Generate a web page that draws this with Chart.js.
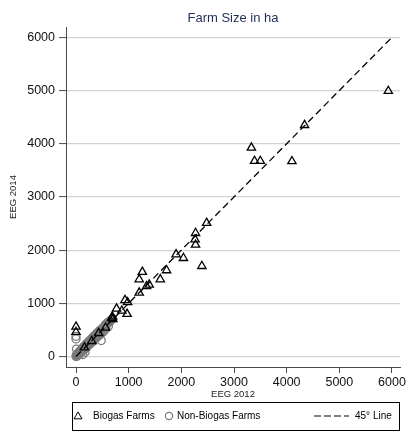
<!DOCTYPE html>
<html>
<head>
<meta charset="utf-8">
<title>Farm Size in ha</title>
<script src="https://cdn.jsdelivr.net/npm/chart.js@4/dist/chart.umd.min.js"></script>
<style>
  html, body { margin: 0; padding: 0; background: #ffffff; }
  #wrap { width: 409px; height: 441px; }
</style>
</head>
<body>
<div id="wrap"><canvas id="c" width="409" height="441"></canvas></div>
<script>
// Farm size (ha) under EEG 2012 vs EEG 2014
const chartTitle = 'Farm Size in ha';
const xTitle = 'EEG 2012';
const yTitle = 'EEG 2014';

const xTickValues = [0, 1000, 2000, 3000, 4000, 5000, 6000];
const yTickValues = [0, 1000, 2000, 3000, 4000, 5000, 6000];

// Biogas farms
const biogasX = [5930, 4340, 4100, 3330, 3390, 3500, 2480, 2270, 2260, 2270, 2040, 1900, 2390,
                 1720, 1600, 1260, 1200, 1390, 1340, 1200, 930, 980, 970, 770, 870, 700, 680,
                 0, 0, 690, 560, 430, 300, 160];
const biogasY = [4990, 4350, 3670, 3925, 3675, 3675, 2510, 2320, 2200, 2100, 1850, 1920, 1700,
                 1620, 1450, 1590, 1450, 1350, 1320, 1200, 1060, 1020, 800, 900, 860, 700, 720,
                 560, 460, 750, 540, 440, 290, 170];

// Non-biogas farms
const nonBiogasX = [0, 6, 14, 20, 27, 31, 42, 47, 57, 63, 71, 76, 88, 93, 104, 111, 117, 127, 133,
                    144, 152, 158, 169, 177, 183, 196, 203, 214, 222, 229, 242, 251, 259, 272,
                    279, 291, 302, 309, 322, 331, 343, 350, 363, 370, 382, 390, 403, 412, 425,
                    434, 447, 456, 472, 484, 503, 512, 533, 546, 568, 587, 615, 638, 666, 697,
                    0, 0, 8, 38, 480, 128, 172, 600, 560, 650];
const nonBiogasY = [0, 28, 6, 42, 13, 55, 27, 72, 43, 90, 61, 102, 75, 124, 88, 140, 103, 158, 121,
                    178, 129, 197, 152, 207, 168, 235, 177, 252, 201, 265, 218, 293, 233, 302,
                    258, 327, 268, 348, 290, 365, 313, 388, 328, 402, 353, 431, 366, 443, 393,
                    468, 405, 491, 433, 509, 452, 543, 487, 572, 523, 607, 568, 655, 688, 712,
                    380, 330, 140, 62, 300, 38, 82, 640, 600, 665];

// 45 degree reference line
const lineX = [0, 6000];
const lineY = [0, 6000];

const toPoints = (xs, ys) => xs.map((x, i) => ({ x: x, y: ys[i] }));

const FONT = '"Liberation Sans", Arial, Helvetica, sans-serif';
const AXIS_COLOR = '#4a4a4a';
const GRID_COLOR = '#d2d2d2';
const CIRCLE_COLOR = '#7a7a7a';

// Title above the plot region and the boxed legend beneath the axis
const decorations = {
  id: 'decorations',
  afterDraw(chart) {
    const ctx = chart.ctx;
    const area = chart.chartArea;
    ctx.save();

    ctx.fillStyle = '#1e2d58';
    ctx.font = '13px ' + FONT;
    ctx.textAlign = 'center';
    ctx.textBaseline = 'middle';
    ctx.fillText(chartTitle, (area.left + area.right) / 2, 18);

    // legend box
    ctx.strokeStyle = '#000000';
    ctx.lineWidth = 1;
    ctx.strokeRect(72.5, 402.5, 327, 28);

    const ds = chart.data.datasets;
    const cy = 416;
    ctx.font = '10px ' + FONT;
    ctx.textAlign = 'left';

    // hollow triangle marker
    ctx.fillStyle = 'rgba(0,0,0,0)';
    ctx.strokeStyle = '#000000';
    Chart.helpers.drawPoint(ctx, { pointStyle: 'triangle', radius: 4.6, borderWidth: 2.2 }, 78, cy + 0.5);

    ctx.fillStyle = '#000000';
    ctx.fillText(ds[1].label, 93, cy);

    ctx.strokeStyle = CIRCLE_COLOR;
    ctx.lineWidth = 1.2;
    ctx.beginPath();
    ctx.arc(169, cy, 3.6, 0, Math.PI * 2);
    ctx.stroke();
    ctx.fillText(ds[2].label, 177, cy);

    ctx.strokeStyle = '#000000';
    ctx.lineWidth = 1.2;
    ctx.setLineDash([7, 3]);
    ctx.beginPath();
    ctx.moveTo(314, cy);
    ctx.lineTo(349, cy);
    ctx.stroke();
    ctx.setLineDash([]);
    ctx.fillText(ds[0].label, 355, cy);

    ctx.restore();
  }
};

const plainNumber = v => String(v);

new Chart(document.getElementById('c'), {
  type: 'scatter',
  data: {
    datasets: [
      {
        type: 'line',
        label: '45° Line',
        data: toPoints(lineX, lineY),
        borderColor: '#000000',
        borderWidth: 1.3,
        borderDash: [7, 4],
        pointRadius: 0,
        fill: false,
        order: 0
      },
      {
        label: 'Biogas Farms',
        data: toPoints(biogasX, biogasY),
        pointStyle: 'triangle',
        pointRadius: 4.8,
        borderColor: '#000000',
        backgroundColor: 'rgba(0,0,0,0)',
        borderWidth: 1.3,
        order: 1
      },
      {
        label: 'Non-Biogas Farms',
        data: toPoints(nonBiogasX, nonBiogasY),
        pointStyle: 'circle',
        pointRadius: 4,
        borderColor: CIRCLE_COLOR,
        backgroundColor: 'rgba(0,0,0,0)',
        borderWidth: 1.3,
        order: 2
      }
    ]
  },
  options: {
    responsive: false,
    animation: false,
    devicePixelRatio: 1,
    layout: { padding: { left: 0, right: 9, top: 27, bottom: 40 } },
    plugins: {
      legend: { display: false },
      title: { display: false },
      tooltip: { enabled: false }
    },
    scales: {
      x: {
        type: 'linear',
        min: -190,
        max: 6152,
        afterBuildTicks(scale) { scale.ticks = xTickValues.map(v => ({ value: v })); },
        afterFit(scale) { scale.height = 34; },
        grid: { drawOnChartArea: false, drawTicks: true, tickLength: 6, tickColor: AXIS_COLOR, tickWidth: 1 },
        border: { display: true, color: AXIS_COLOR, width: 1 },
        ticks: { color: '#111111', font: { family: FONT, size: 12.5 }, padding: 2, maxRotation: 0, callback: plainNumber },
        title: { display: true, text: xTitle, color: '#222222', font: { family: FONT, size: 9.5 }, padding: { top: 0, bottom: 1.3 } }
      },
      y: {
        type: 'linear',
        min: -197,
        max: 6194,
        afterBuildTicks(scale) { scale.ticks = yTickValues.map(v => ({ value: v })); },
        afterFit(scale) { scale.width = 66; },
        grid: { drawOnChartArea: true, color: GRID_COLOR, lineWidth: 1.2, drawTicks: true, tickLength: 7, tickColor: AXIS_COLOR, tickWidth: 1 },
        border: { display: true, color: AXIS_COLOR, width: 1 },
        ticks: { color: '#111111', font: { family: FONT, size: 12.5 }, padding: 4, callback: plainNumber },
        title: { display: true, text: yTitle, color: '#222222', font: { family: FONT, size: 9.5 }, padding: { top: 7.3, bottom: 0 } }
      }
    }
  },
  plugins: [decorations]
});
</script>
</body>
</html>
